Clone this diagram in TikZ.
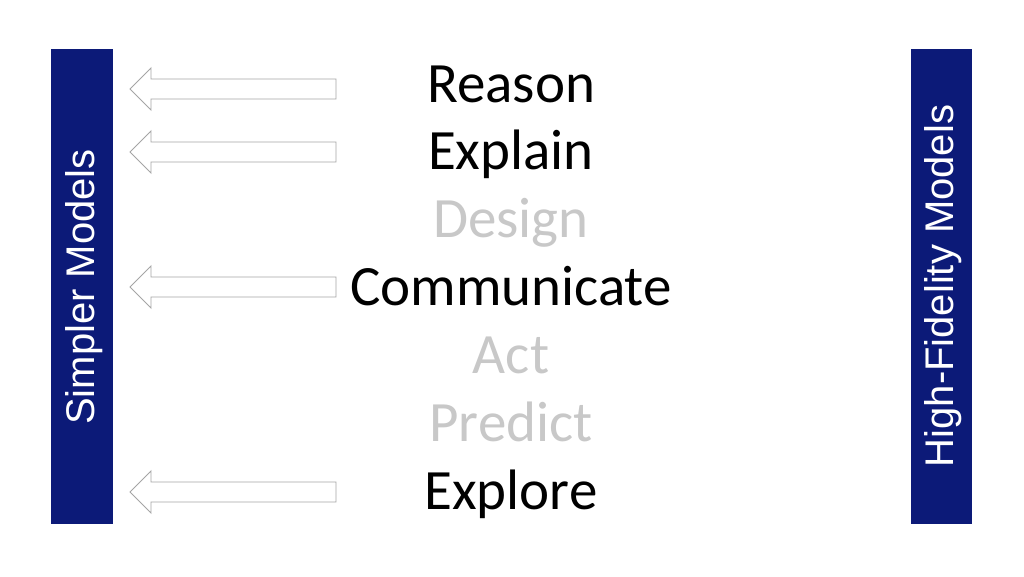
\documentclass[tikz,border=0pt]{standalone}
\usepackage{fontspec}
\setmainfont{Carlito}
\newfontfamily\barfont{Liberation Sans}
\definecolor{navy}{RGB}{12,26,120}
\definecolor{lightgray}{RGB}{200,200,200}
\definecolor{arrowgray}{RGB}{165,165,165}
\begin{document}
\begin{tikzpicture}[x=1pt,y=-1pt,
  bar/.style={fill=navy,draw=none},
  bartext/.style={text=white,font=\barfont\fontsize{40}{40}\selectfont,rotate=90,inner sep=0pt},
  word/.style={font=\fontsize{57}{57}\selectfont,inner sep=0pt,anchor=base},
  on/.style={word,text=black},
  off/.style={word,text=lightgray},
  fatarrow/.style={draw=arrowgray,fill=white,line width=0.9pt,line join=miter}]
\useasboundingbox (0,0) rectangle (1024,576);
\fill[white] (0,0) rectangle (1024,576);
\path[bar] (51,49) rectangle (113,524);
\path[bar] (911,49) rectangle (972,524);
\node[bartext] (simple) at (84,287) {Simpler Models};
\node[bartext] (hifi) at (943.5,286) {High-Fidelity Models};
\node[on]  (reason) at (511,102) {Reason};
\node[on]  (explain) at (511,169) {Explain};
\node[off] (design) at (511,237) {Design};
\node[on]  (comm) at (511,305) {Communicate};
\node[off] (act) at (511,373) {Act};
\node[off] (predict) at (511,441) {Predict};
\node[on]  (explore) at (511,509) {Explore};
\foreach \cy in {89,152,287,492}{
  \draw[fatarrow] (130,\cy) -- (151,\cy-21) -- (151,\cy-10) -- (336,\cy-10) -- (336,\cy+10) -- (151,\cy+10) -- (151,\cy+21) -- cycle;
}
\end{tikzpicture}
\end{document}
